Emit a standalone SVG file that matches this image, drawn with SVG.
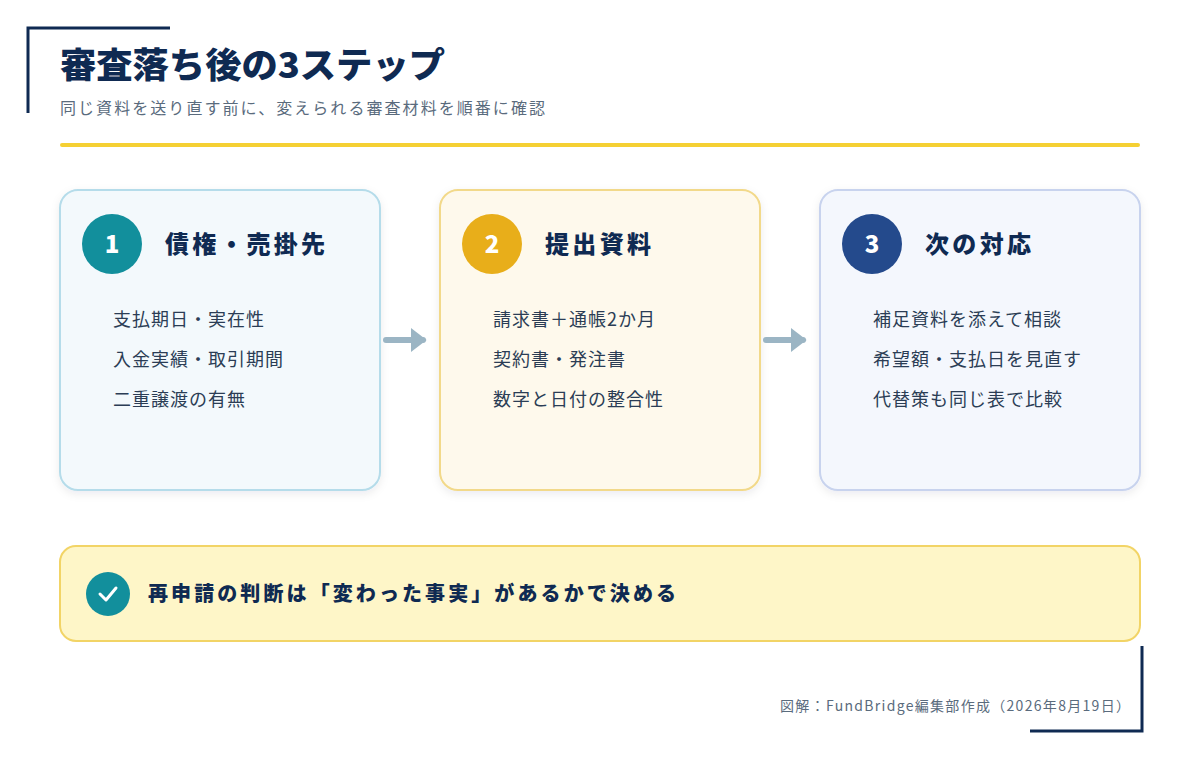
<svg xmlns="http://www.w3.org/2000/svg" width="1200" height="760" viewBox="0 0 1200 760">
<defs>
<style>
text{font-family:"Noto Sans CJK JP","Noto Sans",sans-serif}
.ttl{font-size:35px;font-weight:900;fill:#0f2a52}
.sub{font-size:16px;fill:#5a6b7d}
.hd{font-size:24px;font-weight:900;fill:#0f2a52}
.num{font-size:24px;font-weight:900;fill:#fff;text-anchor:middle}
.it{font-size:18px;fill:#2b3d55;letter-spacing:1px}
.frame{fill:none;stroke:#0f2a52;stroke-width:3}
.conn{stroke:#9bb5c4;stroke-width:6;stroke-linecap:round;fill:none}
</style>
<filter id="sh" x="-10%" y="-10%" width="120%" height="130%"><feDropShadow dx="0" dy="3" stdDeviation="4" flood-color="#1a2a40" flood-opacity="0.08"/></filter>
<marker id="ah" markerWidth="4" markerHeight="4" refX="2" refY="2" orient="auto" markerUnits="strokeWidth"><path d="M0,0 L2.6,2 L0,4 Z" fill="#9bb5c4"/></marker>
</defs>
<rect width="1200" height="760" fill="#fff"/>
<path class="frame" d="M28,113 V28 H170"/>
<path class="frame" d="M1142,646 V731 H1030"/>
<text class="ttl" x="60" y="78" textLength="385" lengthAdjust="spacingAndGlyphs">審査落ち後の3ステップ</text>
<text class="sub" x="60" y="114" textLength="485">同じ資料を送り直す前に、変えられる審査材料を順番に確認</text>
<line x1="62" y1="145" x2="1138" y2="145" stroke="#f5d033" stroke-width="4" stroke-linecap="round"/>
<g id="step1">
<rect x="60" y="190" width="320" height="300" rx="18" fill="#f3f9fc" stroke="#b5dcea" stroke-width="2" filter="url(#sh)"/>
<circle cx="112" cy="244" r="30" fill="#128f9c"/><text class="num" x="112" y="253">1</text>
<text class="hd" x="165" y="253" textLength="160">債権・売掛先</text>
<text class="it" x="113" y="326">支払期日・実在性</text>
<text class="it" x="113" y="366">入金実績・取引期間</text>
<text class="it" x="113" y="406">二重譲渡の有無</text>
</g>
<g id="step2">
<rect x="440" y="190" width="320" height="300" rx="18" fill="#fef9ec" stroke="#f2d98a" stroke-width="2" filter="url(#sh)"/>
<circle cx="492" cy="244" r="30" fill="#e8ae1a"/><text class="num" x="492" y="253">2</text>
<text class="hd" x="545" y="253" textLength="106">提出資料</text>
<text class="it" x="493" y="326">請求書＋通帳2か月</text>
<text class="it" x="493" y="366">契約書・発注書</text>
<text class="it" x="493" y="406">数字と日付の整合性</text>
</g>
<g id="step3">
<rect x="820" y="190" width="320" height="300" rx="18" fill="#f4f7fd" stroke="#c8d3ee" stroke-width="2" filter="url(#sh)"/>
<circle cx="872" cy="244" r="30" fill="#244a8c"/><text class="num" x="872" y="253">3</text>
<text class="hd" x="925" y="253" textLength="106">次の対応</text>
<text class="it" x="873" y="326">補足資料を添えて相談</text>
<text class="it" x="873" y="366">希望額・支払日を見直す</text>
<text class="it" x="873" y="406">代替策も同じ表で比較</text>
</g>
<g id="connectors">
<line class="conn" x1="386" y1="340" x2="423" y2="340" marker-end="url(#ah)"/>
<line class="conn" x1="766" y1="340" x2="803" y2="340" marker-end="url(#ah)"/>
</g>
<g id="conclusion">
<rect x="60" y="546" width="1080" height="95" rx="16" fill="#fef6c8" stroke="#f2d466" stroke-width="2"/>
<circle cx="108" cy="594" r="22" fill="#128f9c"/>
<path d="M100,594 L106,600 L116,588" fill="none" stroke="#fff" stroke-width="3" stroke-linecap="round" stroke-linejoin="round"/>
<text x="148" y="601" textLength="528" style="font-size:20px;font-weight:900;fill:#0f2a52">再申請の判断は「変わった事実」があるかで決める</text>
</g>
<text x="780" y="711" textLength="350" style="font-size:14px;fill:#5a6b7d">図解：FundBridge編集部作成（2026年8月19日）</text>
</svg>
